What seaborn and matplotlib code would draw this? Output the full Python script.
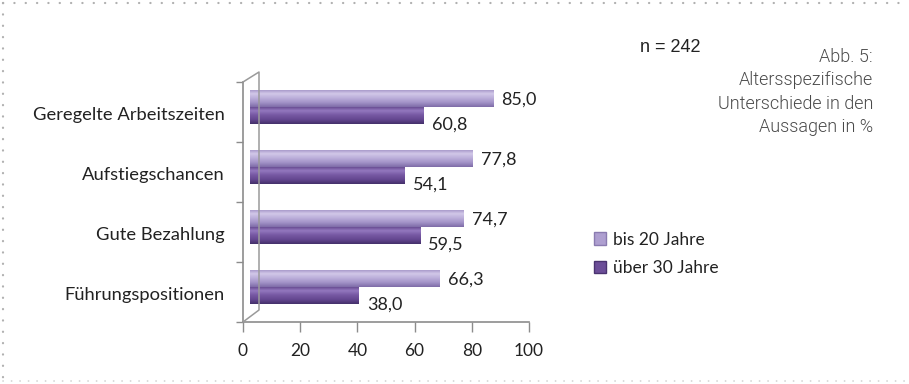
import numpy as np
import pandas as pd
import matplotlib
matplotlib.use("Agg")
import matplotlib.pyplot as plt
import matplotlib.transforms as mtransforms
from matplotlib.patches import Patch
from matplotlib.lines import Line2D
from matplotlib.colors import LinearSegmentedColormap
import seaborn as sns

categories = ["Geregelte Arbeitszeiten", "Aufstiegschancen", "Gute Bezahlung", "Führungspositionen"]
series_names = ["bis 20 Jahre", "über 30 Jahre"]
vals_young = [85.0, 77.8, 74.7, 66.3]
vals_old = [60.8, 54.1, 59.5, 38.0]
x_ticks = [0, 20, 40, 60, 80, 100]

W, H = 909, 384
sns.set_theme(style="white")
plt.rcParams["font.family"] = ["Lato", "DejaVu Sans"]

fig = plt.figure(figsize=(W / 100, H / 100), dpi=100)

def fx(px):
    return px / W

def fy(py):
    return 1 - py / H

ax_l, ax_r, ax_t, ax_b = 243, 529, 82, 322
ax = fig.add_axes([fx(ax_l), fy(ax_b), fx(ax_r - ax_l), (ax_b - ax_t) / H])

df = pd.DataFrame({
    "Kategorie": categories * 2,
    "Wert": vals_young + vals_old,
    "Gruppe": [series_names[0]] * 4 + [series_names[1]] * 4,
})
light, dark = "#AE9FD0", "#6C4E98"
sns.barplot(data=df, y="Kategorie", x="Wert", hue="Gruppe", order=categories,
            hue_order=series_names, palette=[light, dark], orient="h",
            width=0.57, ax=ax, legend=False, saturation=1, linewidth=0)

ax.set_xlim(0, 100)
ax.set_ylim(3.5, -0.5)
ax.set_xticks(x_ticks)
ax.set_xticklabels([str(t) for t in x_ticks], fontsize=12.5, color="#222222")
ax.set_yticks([-0.5, 0.5, 1.5, 2.5, 3.5])
ax.set_yticklabels([])
ax.set_xlabel("")
ax.set_ylabel("")
ax.tick_params(axis="x", length=7, width=1, color="#8c8c8c", pad=8, bottom=True)
ax.tick_params(axis="y", length=5, width=1, color="#8c8c8c", left=True)
for s in ["top", "right"]:
    ax.spines[s].set_visible(False)
for s in ["left", "bottom"]:
    ax.spines[s].set_color("#8c8c8c")
    ax.spines[s].set_linewidth(1.2)

# 3D depth offset for bars
off = mtransforms.ScaledTranslation(7 / 100, 5 / 100, fig.dpi_scale_trans)
tr = ax.transData + off

grad_light = ["#9F8FC4", "#D2C8E8", "#BBAEDA", "#A393C8", "#7E6CA8"]
grad_dark = ["#5E4288", "#9478BF", "#7658A3", "#654791", "#44306A"]
cm_light = LinearSegmentedColormap.from_list("l", grad_light)
cm_dark = LinearSegmentedColormap.from_list("d", grad_dark)
grad = np.linspace(0, 1, 64).reshape(-1, 1)

bars = list(ax.patches)
for i, p in enumerate(bars):
    p.set_transform(tr)
    x0, y0 = p.get_x(), p.get_y()
    w, h = p.get_width(), p.get_height()
    cmap = cm_light if i < len(categories) else cm_dark
    im = ax.imshow(grad, cmap=cmap, aspect="auto", extent=[x0, x0 + w, y0 + h, y0],
                   origin="upper", zorder=3, interpolation="bilinear")
    im.set_transform(tr)
    im.set_clip_path(p)
    im.set_clip_on(True)
    p.set_edgecolor("none")
ax.set_xlim(0, 100)
ax.set_ylim(3.5, -0.5)
ax.set_aspect("auto")

# value labels
for j, v in enumerate(vals_young):
    ax.annotate(f"{v:.1f}".replace(".", ","), (v, j - 0.14), xytext=(11, 3),
                textcoords="offset points", ha="left", va="center",
                fontsize=13, color="#222222", annotation_clip=False)
for j, v in enumerate(vals_old):
    ax.annotate(f"{v:.1f}".replace(".", ","), (v, j + 0.14), xytext=(11, -3),
                textcoords="offset points", ha="left", va="center",
                fontsize=13, color="#222222", annotation_clip=False)

# category labels
for j, cat in enumerate(categories):
    ax.annotate(cat, (0, j), xytext=(-13, -2), textcoords="offset points",
                ha="right", va="center", fontsize=13.2, color="#222222",
                annotation_clip=False)

# 3D wall lines (figure pixel coordinates)
wall_col = "#9a9a9a"
def fline(xs, ys, **kw):
    fig.add_artist(Line2D([fx(x) for x in xs], [fy(y) for y in ys],
                          transform=fig.transFigure, **kw))
fline([243, 259, 259, 243], [82, 72, 310, 322], color=wall_col, lw=1.1)

# legend
handles = [Patch(facecolor=light, edgecolor="#8a7bb0"), Patch(facecolor=dark, edgecolor="#4a3370")]
fig.legend(handles, series_names, loc="upper left", bbox_to_anchor=(fx(578), fy(216)),
           frameon=False, fontsize=12.5, handlelength=0.7, handleheight=0.7,
           handletextpad=0.4, labelspacing=0.7, labelcolor="#222222")

# annotations
fig.text(fx(701), fy(47), "n = 242", ha="right", va="center", fontsize=13,
         family=["Liberation Sans", "DejaVu Sans"], color="#222222")
notes = ["Abb. 5:", "Altersspezifische", "Unterschiede in den", "Aussagen in %"]
for k, line in enumerate(notes):
    fig.text(fx(873), fy(57 + 23.3 * k), line, ha="right", va="center",
             fontsize=13, fontweight=300, family=["Roboto", "DejaVu Sans"],
             color="#4a4a4a")

# dotted border
dot = "#b0b0b0"
fline([3, 3], [3, 381], color=dot, lw=1.6, ls=(0, (0.1, 5)), dash_capstyle="round")
fline([3, 909], [3, 3], color=dot, lw=1.6, ls=(0, (0.1, 5)), dash_capstyle="round")
fline([3, 909], [381, 381], color="#d0d0d0", lw=1.2, ls=(0, (0.1, 5)), dash_capstyle="round")

fig.savefig("out.png", dpi=100)
